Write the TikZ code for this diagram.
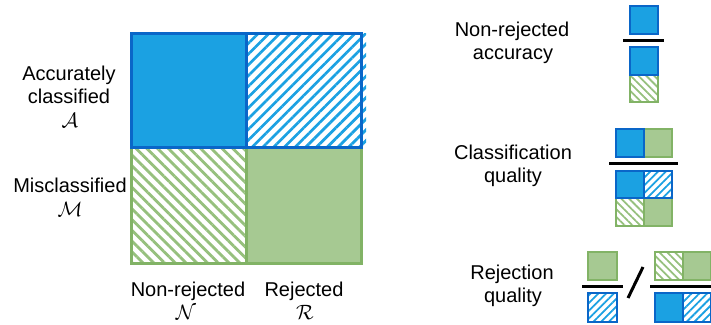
\documentclass[tikz,border=0pt]{standalone}
\usepackage{fontspec}
\setmainfont{Liberation Sans}
\usetikzlibrary{patterns.meta}
\definecolor{cblue}{RGB}{27,161,226}
\definecolor{cblueb}{RGB}{10,102,200}
\definecolor{cgreen}{RGB}{166,201,146}
\definecolor{cgreenb}{RGB}{130,179,102}
\definecolor{chatchg}{RGB}{150,192,125}
\begin{document}
\begin{tikzpicture}[x=1pt,y=-1pt,
  lbl/.style={font=\fontsize{20}{24}\selectfont, anchor=base, inner sep=0pt},
  bsolid/.style={fill=cblue, draw=cblueb},
  gsolid/.style={fill=cgreen, draw=cgreenb},
  bhatch/.style={pattern={Lines[angle=45,distance=5.5pt,line width=1.8pt]}, pattern color=cblue, draw=cblueb},
  ghatch/.style={pattern={Lines[angle=-45,distance=5.5pt,line width=1.8pt]}, pattern color=chatchg, draw=cgreenb},
  bighatchb/.style={pattern={Lines[angle=45,distance=7.6pt,line width=2.8pt]}, pattern color=cblue},
  bighatchg/.style={pattern={Lines[angle=-45,distance=7.6pt,line width=2.8pt]}, pattern color=chatchg},
  bar/.style={line width=3pt, black},
  small/.style={line width=2pt},
  big/.style={line width=3pt}
]
\useasboundingbox (0,0) rectangle (711,324);

% ---- main grid ----
\fill[bighatchg] (131,147) rectangle (246,263);
\draw[big, cgreenb] (131,147) rectangle (246,263);
\draw[big, gsolid] (246,147) rectangle (361,263);
\fill[bighatchb] (246,33) rectangle (366,147);
\draw[big, cblueb] (246,33) rectangle (361,147);
\draw[big, bsolid] (131,33) rectangle (246,147);

% ---- left labels ----
\node[lbl] (acc1) at (69,80) {Accurately};
\node[lbl] (acc2) at (69,103.5) {classified};
\node[lbl] (accA) at (70,127) {$\mathcal{A}$};
\node[lbl] (mis1) at (70,192) {Misclassified};
\node[lbl] (misM) at (70,216) {$\mathcal{M}$};

% ---- bottom labels ----
\node[lbl] (nr1) at (188,296) {Non-rejected};
\node[lbl] (nrN) at (186,319) {$\mathcal{N}$};
\node[lbl] (rj1) at (304,296) {Rejected};
\node[lbl] (rjR) at (305,319) {$\mathcal{R}$};

% ---- right labels ----
\node[lbl] (nra1) at (512,36.5) {Non-rejected};
\node[lbl] (nra2) at (513,59.5) {accuracy};
\node[lbl] (cq1) at (513,159.5) {Classification};
\node[lbl] (cq2) at (513,182.5) {quality};
\node[lbl] (rq1) at (512,279.5) {Rejection};
\node[lbl] (rq2) at (513,302.5) {quality};

% ---- non-rejected accuracy ----
\draw[small, bsolid] (630,6) rectangle (658,34);
\draw[bar] (623,40) -- (664,40);
\draw[small, ghatch] (630,75) rectangle (658,102);
\draw[small, bsolid] (630,47) rectangle (658,75);

% ---- classification quality ----
\draw[small, gsolid] (644,129) rectangle (672,157);
\draw[small, bsolid] (616,129) rectangle (644,157);
\draw[bar] (609,163) -- (678,163);
\draw[small, ghatch] (616,198) rectangle (644,226);
\draw[small, gsolid] (644,198) rectangle (672,226);
\draw[small, bhatch] (644,171) rectangle (672,198);
\draw[small, bsolid] (616,171) rectangle (644,198);

% ---- rejection quality ----
\draw[small, gsolid] (588,252) rectangle (617,280);
\draw[bar] (582,286) -- (623,286);
\draw[small, bhatch] (588,293) rectangle (617,322);
\draw[bar] (643,267) -- (628,298);
\draw[small, ghatch] (655,252) rectangle (683,280);
\draw[small, gsolid] (683,252) rectangle (711,280);
\draw[bar] (650,286) -- (716,286);
\draw[small, bhatch] (683,293) rectangle (711,322);
\draw[small, bsolid] (655,293) rectangle (683,322);
\end{tikzpicture}
\end{document}
